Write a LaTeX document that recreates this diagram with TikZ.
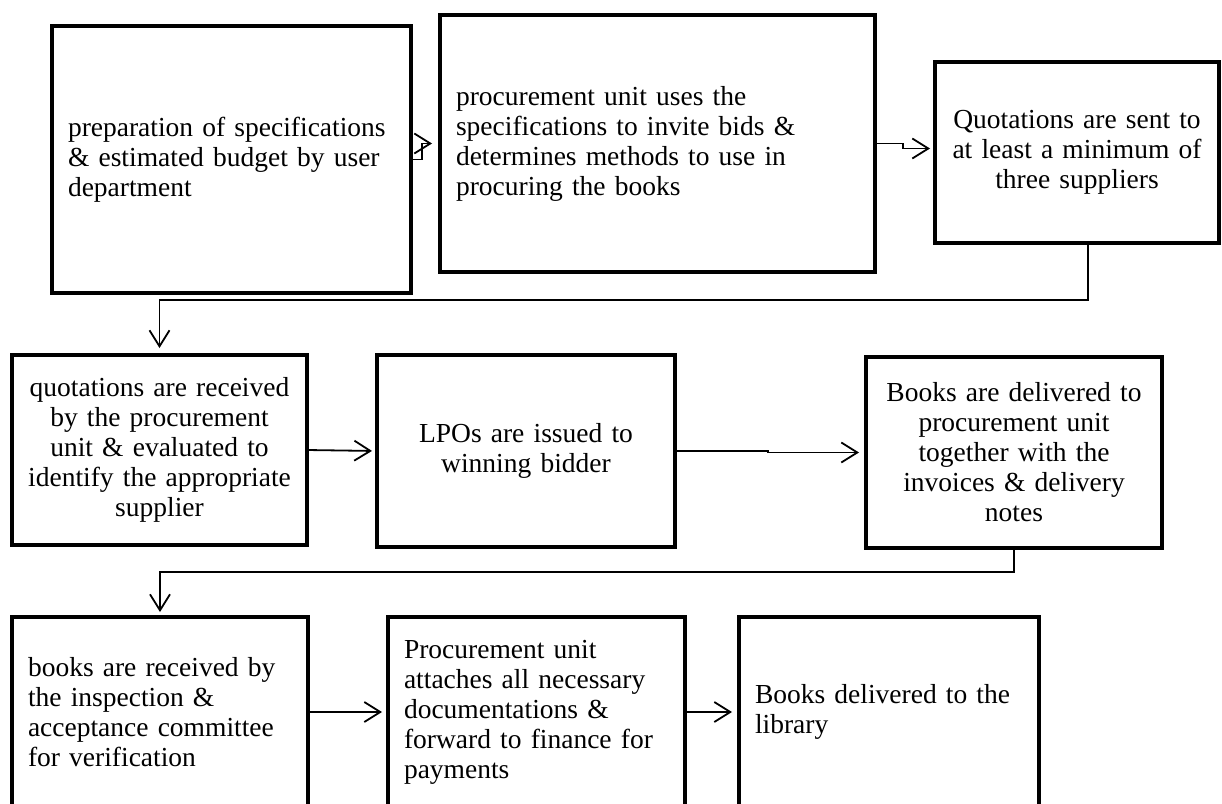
\documentclass[tikz,border=0pt]{standalone}
\usepackage{fontspec}
\setmainfont{Liberation Serif}
\usetikzlibrary{arrows.meta}
\begin{document}
\begin{tikzpicture}[x=1pt,y=-1pt,
  box/.style={draw, line width=4pt, anchor=north west, outer sep=0pt,
    inner xsep=16pt, inner ysep=0pt, fill=white,
    font=\fontsize{27.5}{30}\selectfont},
  conn/.style={line width=1.8pt,
    -{Straight Barb[length=16pt,width=20pt,line width=1.8pt]}}
]
\useasboundingbox (0,0) rectangle (1222,803);
\fill[white] (0,0) rectangle (1222,803);
\clip (0,0) rectangle (1222,803);

% row 1
\node[box, minimum width=359pt, minimum height=267pt, text width=327pt, align=left] (b1) at (52,26)
  {preparation of specifications\\ \& estimated budget by user\\ department};
\node[box, minimum width=435pt, minimum height=257pt, text width=403pt, align=left] (b2) at (440,15)
  {procurement unit uses the\\ specifications to invite bids \&\\ determines methods to use in\\ procuring the books};
\node[box, minimum width=284pt, minimum height=181pt, text width=252pt, align=center] (b3) at (935,62)
  {Quotations are sent to\\ at least a minimum of\\ three suppliers};

% row 2
\node[box, minimum width=295pt, minimum height=190pt, text width=263pt, align=center] (b4) at (12,355)
  {quotations are received\\ by the procurement\\ unit \& evaluated to\\ identify the appropriate\\ supplier};
\node[box, minimum width=298pt, minimum height=192pt, text width=266pt, align=center] (b5) at (377,355)
  {LPOs are issued to\\ winning bidder};
\node[box, minimum width=296pt, minimum height=191pt, text width=264pt, align=center] (b6) at (866,357)
  {Books are delivered to\\ procurement unit\\ together with the\\ invoices \& delivery\\ notes};

% row 3
\node[box, minimum width=296pt, minimum height=190pt, text width=264pt, align=left] (b7) at (12,617)
  {books are received by\\ the inspection \&\\ acceptance committee\\ for verification};
\node[box, minimum width=297pt, minimum height=190pt, text width=265pt, align=left] (b8) at (388,617)
  {Procurement unit\\ attaches all necessary\\ documentations \&\\ forward to finance for\\ payments};
\node[box, minimum width=300pt, minimum height=190pt, text width=268pt, align=left] (b9) at (739,617)
  {Books delivered to the\\ library};

% connectors
\draw[conn, shorten >=8pt] (b1.east) -- ++(11,0) |- (b2.west);
\draw[conn, shorten >=5pt] (b2.east) -- ++(28,0) |- ([yshift=4pt]b3.west);
\draw[conn, shorten >=7pt] ([xshift=11pt]b3.south) -- ++(0,57) -| (b4.north);
\draw[conn, shorten >=5pt] (b4.east) -- (b5.west);
\draw[conn, shorten >=7pt] (b5.east) -- ++(93,0) |- (b6.west);
\draw[conn, shorten >=5pt] (b6.south) -- ++(0,24) -| (b7.north);
\draw[conn, shorten >=6pt] (b7.east) -- (b8.west);
\draw[conn, shorten >=7pt] (b8.east) -- ++(14,0) |- (b9.west);
\end{tikzpicture}
\end{document}
